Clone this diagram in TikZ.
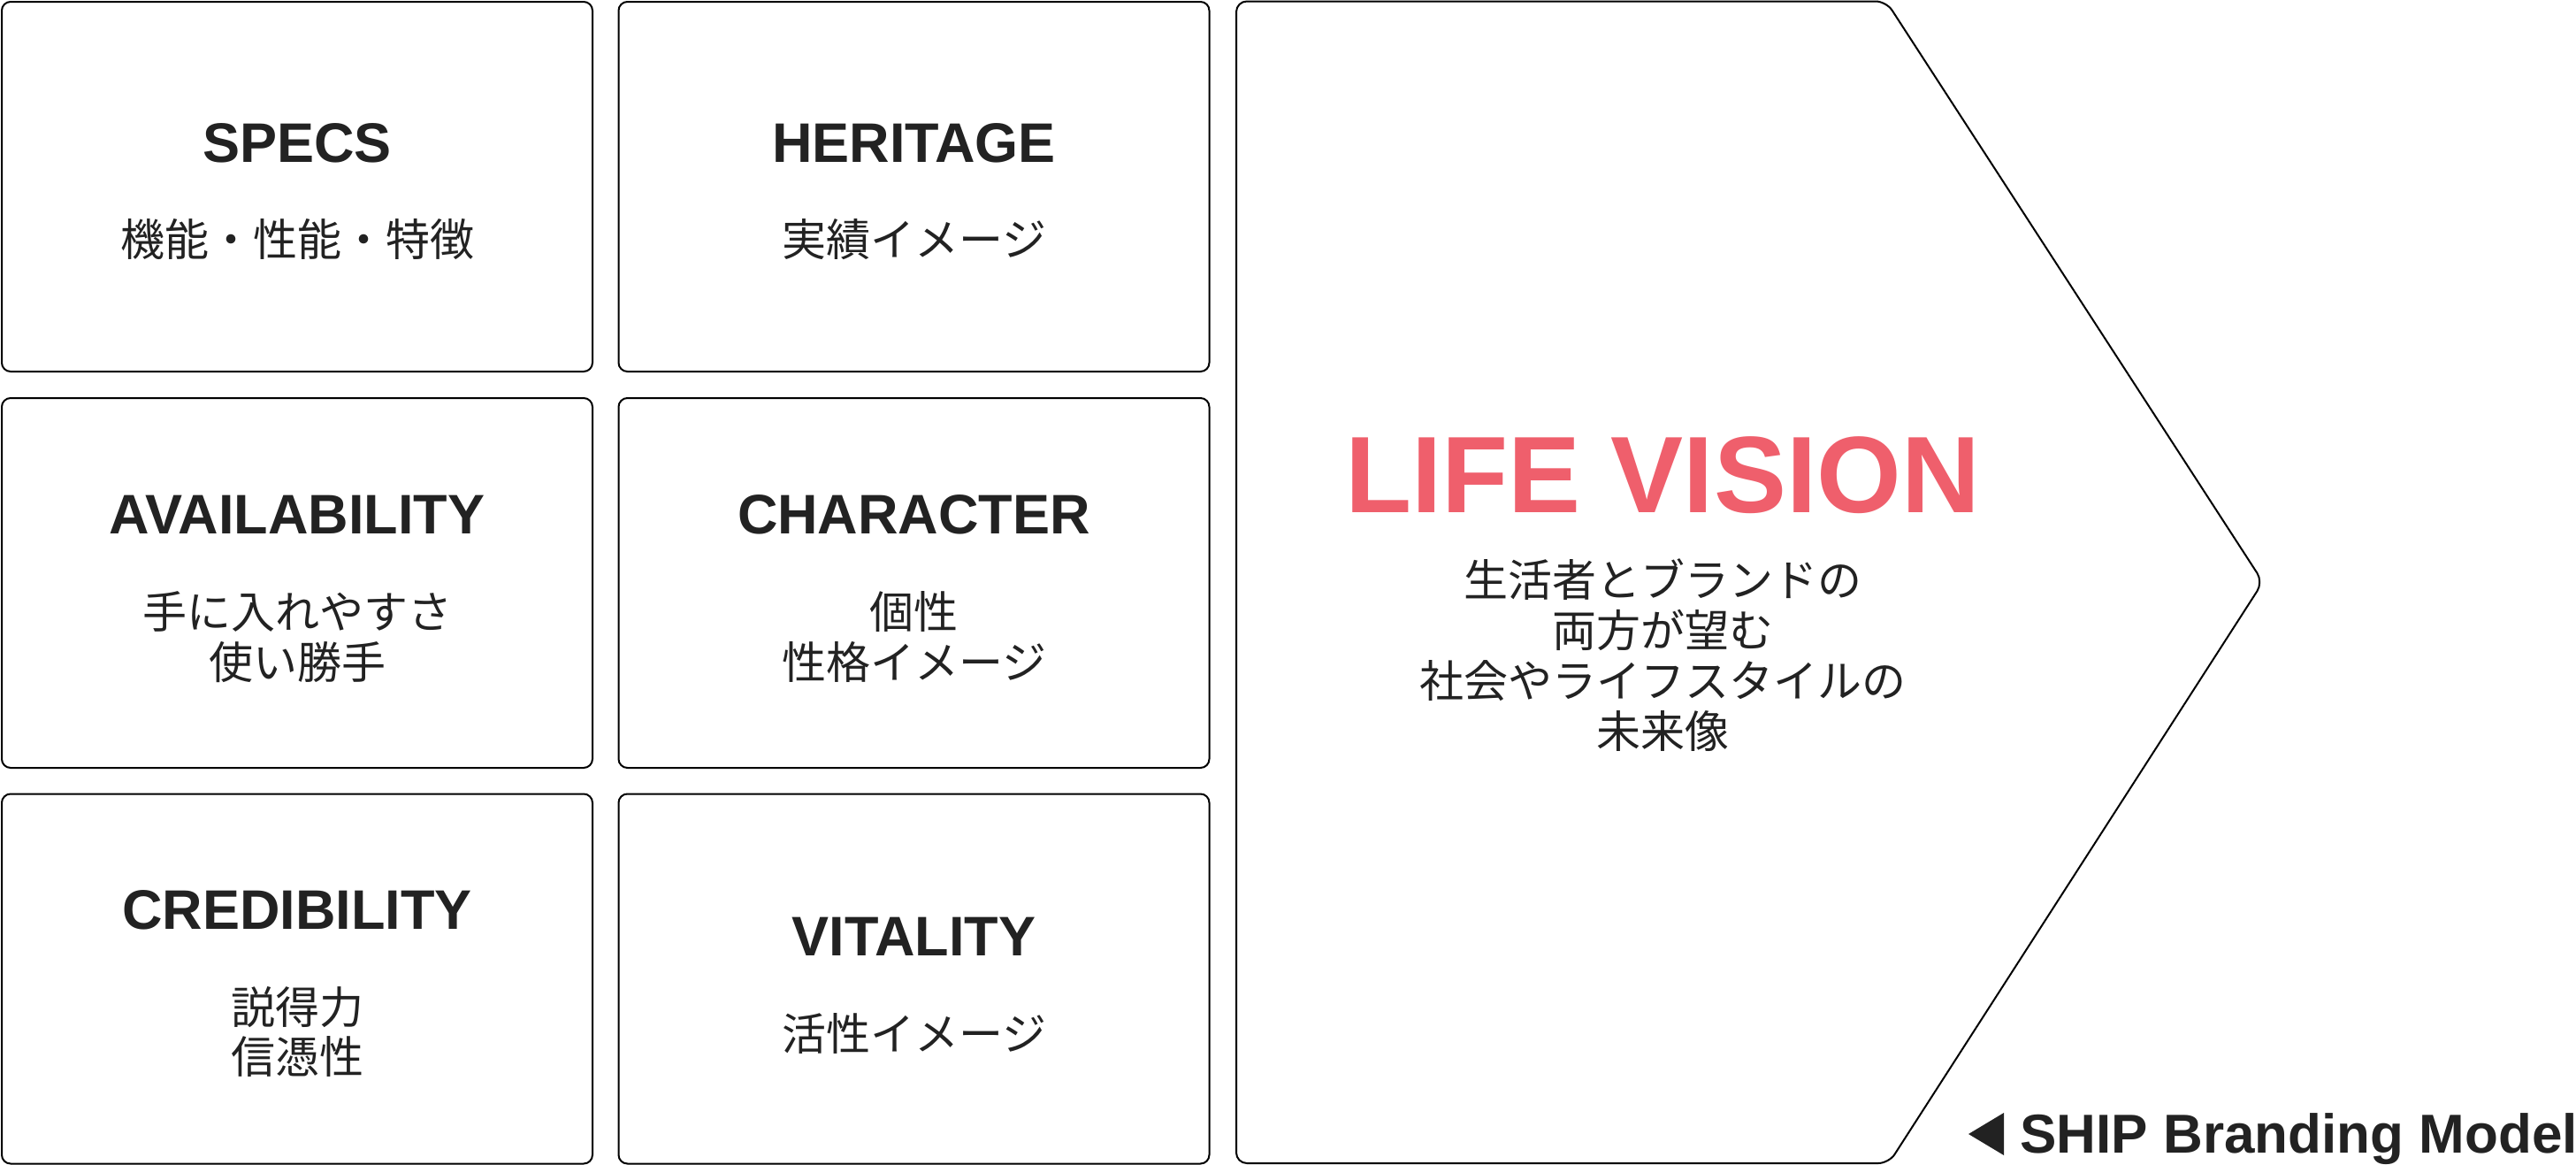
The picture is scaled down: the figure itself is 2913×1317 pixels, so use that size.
\documentclass[tikz,border=0pt]{standalone}
\usepackage{fontspec}
\setmainfont{Liberation Sans}
\newfontfamily\cjk{Noto Sans CJK JP}
\definecolor{ink}{HTML}{222222}
\definecolor{vision}{HTML}{EF5F6C}
\begin{document}
\begin{tikzpicture}[x=1pt,y=-1pt,
  card/.style={draw=black, line width=2pt, rounded corners=10pt, minimum width=668pt, minimum height=418pt, inner sep=0pt},
  ttl/.style={font=\bfseries\fontsize{63}{70}\selectfont, text=ink, anchor=base, inner sep=0pt},
  sub/.style={font=\cjk\fontsize{50}{57}\selectfont, text=ink, anchor=base, inner sep=0pt},
  bigttl/.style={font=\bfseries\fontsize{123}{130}\selectfont, text=vision, anchor=base, inner sep=0pt},
  note/.style={font=\bfseries\fontsize{62}{70}\selectfont, text=ink, anchor=base east, inner sep=0pt}]
\useasboundingbox (0,0) rectangle (2913,1317);
\fill[white] (0,0) rectangle (2913,1317);
% cards
\node[card] (specs) at (336,211) {};
\node[card] (heritage) at (1033.5,211) {};
\node[card] (avail) at (336,659) {};
\node[card] (charac) at (1033.5,659) {};
\node[card] (cred) at (336,1106.5) {};
\node[card] (vital) at (1033.5,1106.5) {};
% card texts
\node[ttl] (specs-t) at (336,183) {SPECS};
\node[sub] (specs-s) at (336,289) {機能・性能・特徴};
\node[ttl] (heritage-t) at (1033.5,183) {HERITAGE};
\node[sub] (heritage-s) at (1033.5,289) {実績イメージ};
\node[ttl] (avail-t) at (336,603) {AVAILABILITY};
\node[sub] (avail-s1) at (336,710) {手に入れやすさ};
\node[sub] (avail-s2) at (336,767) {使い勝手};
\node[ttl] (charac-t) at (1033.5,603) {CHARACTER};
\node[sub] (charac-s1) at (1033.5,710) {個性};
\node[sub] (charac-s2) at (1033.5,767) {性格イメージ};
\node[ttl] (cred-t) at (336,1050) {CREDIBILITY};
\node[sub] (cred-s1) at (336,1157) {説得力};
\node[sub] (cred-s2) at (336,1213) {信憑性};
\node[ttl] (vital-t) at (1033.5,1080) {VITALITY};
\node[sub] (vital-s) at (1033.5,1187) {活性イメージ};
% life vision arrow shape
\draw[line width=2pt, rounded corners=12pt] (1398,1.5) -- (2133,1.5) -- (2559,658) -- (2136,1315) -- (1398,1315) -- cycle;
\node[bigttl] (vision-t) at (1880,579) {LIFE VISION};
\node[sub] (vision-s1) at (1880,674) {生活者とブランドの};
\node[sub] (vision-s2) at (1880,731) {両方が望む};
\node[sub] (vision-s3) at (1880,788) {社会やライフスタイルの};
\node[sub] (vision-s4) at (1880,845) {未来像};
% footer note
\node[note] (model) at (2915,1303) {SHIP Branding Model};
\fill[ink] (2226,1282) -- (2266,1258) -- (2266,1306) -- cycle;
\end{tikzpicture}
\end{document}
